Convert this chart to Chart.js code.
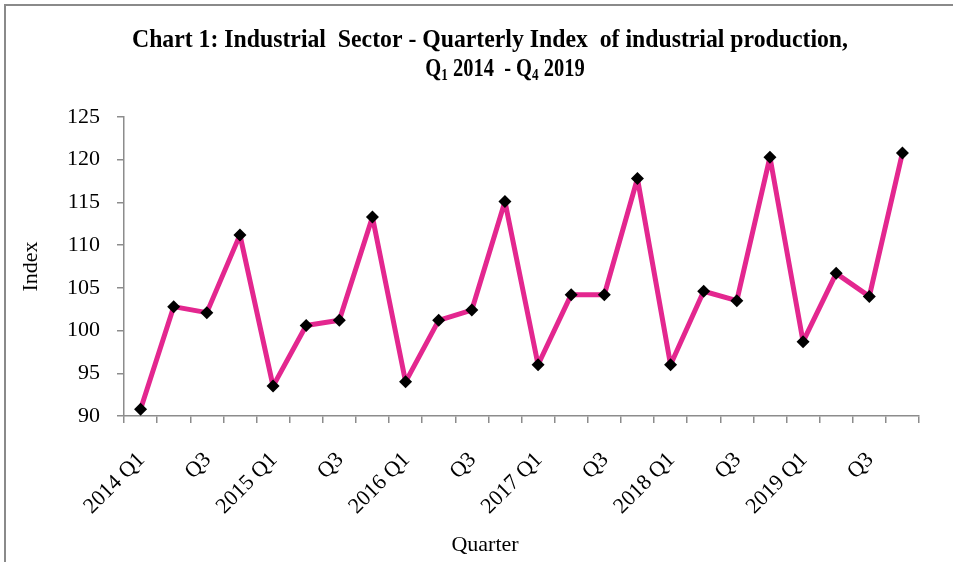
<!DOCTYPE html>
<html>
<head>
<meta charset="utf-8">
<script src="https://cdn.jsdelivr.net/npm/chart.js@4.4.0/dist/chart.umd.min.js"></script>
<style>
    html, body { margin: 0; padding: 0; background: #fff; }
    #wrap { position: relative; width: 953px; height: 562px; overflow: hidden; }
    #frame { position: absolute; left: 4px; top: 4px; right: 0; bottom: 0;
             border-top: 2px solid #8a8a8a; border-left: 2px solid #8a8a8a; }
    #grafico { position: absolute; left: 0; top: 0; }
</style>
</head>
<body>
<div id="wrap"><div id="frame"></div><canvas id="grafico" width="953" height="562"></canvas></div>
<script>
// Dados
const quarters = [
    '2014 Q1', 'Q2', 'Q3', 'Q4',
    '2015 Q1', 'Q2', 'Q3', 'Q4',
    '2016 Q1', 'Q2', 'Q3', 'Q4',
    '2017 Q1', 'Q2', 'Q3', 'Q4',
    '2018 Q1', 'Q2', 'Q3', 'Q4',
    '2019 Q1', 'Q2', 'Q3', 'Q4'
];
const indexValues = [
    90.8, 102.8, 102.1, 111.2,
    93.5, 100.6, 101.2, 113.3,
    94.0, 101.2, 102.4, 115.1,
    96.0, 104.2, 104.2, 117.8,
    96.0, 104.6, 103.5, 120.3,
    98.7, 106.7, 104.0, 120.8
];
const yTicks = [90, 95, 100, 105, 110, 115, 120, 125];

const titleLine1 = 'Chart 1: Industrial  Sector - Quarterly Index  of industrial production,';
const titleLine2 = [
    { text: 'Q' }, { text: '1', sub: true }, { text: ' 2014  - Q' },
    { text: '4', sub: true }, { text: ' 2019' }
];

const SERIF = "'Liberation Serif', 'Times New Roman', serif";
const GREY = '#8c8c8c';

// desenha uma linha de texto comprimida na horizontal, centrada em cx
function drawRuns(ctx, runs, cx, y, size, sx) {
    const mainFont = 'bold ' + size + 'px ' + SERIF;
    const subFont = 'bold ' + Math.round(size * 0.62) + 'px ' + SERIF;
    let total = 0;
    runs.forEach(r => {
        ctx.font = r.sub ? subFont : mainFont;
        r.w = ctx.measureText(r.text).width;
        total += r.w;
    });
    ctx.save();
    ctx.translate(cx, y);
    ctx.scale(sx, 1);
    let x = -total / 2;
    runs.forEach(r => {
        ctx.font = r.sub ? subFont : mainFont;
        ctx.fillText(r.text, x, r.sub ? size * 0.16 : 0);
        x += r.w;
    });
    ctx.restore();
}

const tituloPlugin = {
    id: 'tituloPlugin',
    afterDraw(chart) {
        const ctx = chart.ctx;
        ctx.save();
        ctx.fillStyle = '#000';
        ctx.textAlign = 'left';
        ctx.textBaseline = 'alphabetic';
        drawRuns(ctx, [{ text: titleLine1 }], 490, 47, 25, 0.95);
        drawRuns(ctx, titleLine2, 505, 76, 25, 0.82);

        // título do eixo X
        ctx.font = '22px ' + SERIF;
        ctx.textAlign = 'center';
        ctx.textBaseline = 'middle';
        ctx.fillText('Quarter', 485, 545);
        ctx.restore();
    }
};

const ctx = document.getElementById('grafico').getContext('2d');

new Chart(ctx, {
    type: 'line',
    data: {
        labels: quarters,
        datasets: [{
            label: 'Index',
            data: indexValues,
            borderColor: '#e3278f',
            borderWidth: 5,
            borderJoinStyle: 'round',
            tension: 0,
            pointStyle: 'rectRot',
            pointRadius: 6.5,
            pointBackgroundColor: '#000',
            pointBorderColor: '#000',
            pointBorderWidth: 0
        }]
    },
    options: {
        responsive: false,
        animation: false,
        layout: {
            padding: { top: 117, right: 34, bottom: 0, left: 0 }
        },
        scales: {
            x: {
                type: 'category',
                offset: true,
                afterFit: s => { s.height = 146; },
                grid: {
                    offset: true,
                    drawOnChartArea: false,
                    drawTicks: true,
                    tickLength: 7,
                    color: GREY,
                    lineWidth: 1.5
                },
                border: { display: true, color: GREY, width: 1.5 },
                ticks: {
                    autoSkip: false,
                    maxRotation: 45,
                    minRotation: 45,
                    padding: 24,
                    labelOffset: 1,
                    color: '#000',
                    font: { family: SERIF, size: 22 },
                    callback: (val, i) => (i % 2 === 0 ? quarters[i] : '')
                }
            },
            y: {
                min: 90,
                max: 125,
                afterFit: s => { s.width = 124; },
                afterBuildTicks: s => { s.ticks = yTicks.map(v => ({ value: v })); },
                grid: {
                    drawOnChartArea: false,
                    drawTicks: true,
                    tickLength: 7,
                    color: GREY,
                    lineWidth: 1.5
                },
                border: { display: true, color: GREY, width: 1.5 },
                ticks: {
                    padding: 17,
                    color: '#000',
                    font: { family: SERIF, size: 22 }
                },
                title: {
                    display: true,
                    text: 'Index',
                    color: '#000',
                    font: { family: SERIF, size: 22 },
                    padding: { top: 18, bottom: 0 }
                }
            }
        },
        plugins: {
            legend: { display: false },
            tooltip: { enabled: false },
            title: { display: false }
        }
    },
    plugins: [tituloPlugin]
});
</script>
</body>
</html>
